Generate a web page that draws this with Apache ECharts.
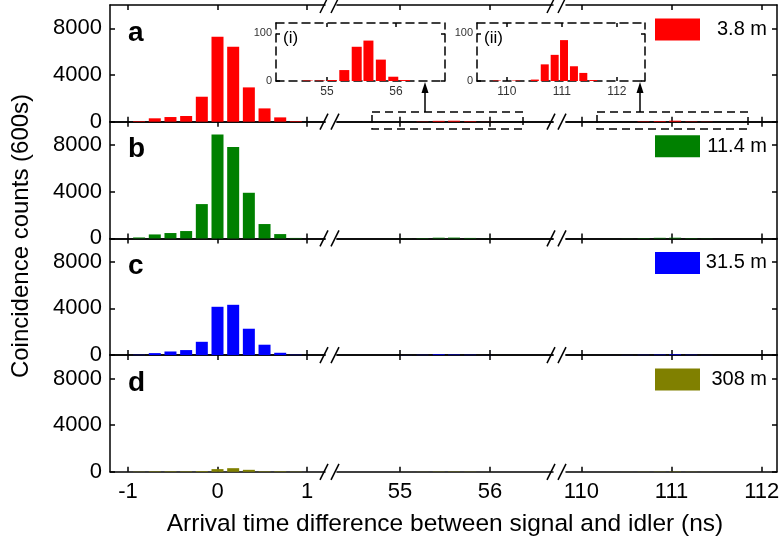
<!DOCTYPE html>
<html>
<head>
<meta charset="utf-8">
<script src="https://cdn.jsdelivr.net/npm/echarts@6/dist/echarts.min.js"></script>
<style>
  html, body { margin: 0; padding: 0; background: #fff; }
  #chart { width: 782px; height: 542px; }
</style>
</head>
<body>
<div id="chart"></div>
<script>
// Bin centres (ns) in the three windows of the time axis
const binsZero = [-0.875, -0.7, -0.525, -0.35, -0.175, 0, 0.175, 0.35, 0.525, 0.7, 0.875];
const binsFirst = [54.72, 54.9, 55.07, 55.25, 55.43, 55.6, 55.78, 55.96, 56.13];
const binsSecond = [109.82, 110.0, 110.17, 110.34, 110.51, 110.69, 110.87, 111.04, 111.22, 111.39, 111.57];

// Coincidence counts (600 s) for each fibre length
const zero38 = [50, 290, 400, 490, 2140, 7290, 6430, 2940, 1140, 370, 50];
const first38 = [1, 1, 2, 23, 72, 85, 45, 9, 2];
const second38 = [1, 0, 1, 0, 3, 35, 55, 86, 31, 17, 2];

const zero114 = [80, 340, 460, 630, 2940, 8910, 7830, 3910, 1230, 370, 40];
const first114 = [2, 3, 8, 30, 60, 70, 40, 8, 2];
const second114 = [1, 1, 2, 3, 10, 30, 50, 60, 30, 15, 2];

const zero315 = [30, 170, 310, 430, 1140, 4140, 4310, 2260, 890, 200, 30];
const first315 = [2, 3, 8, 25, 70, 45, 30, 6, 2];
const second315 = [1, 1, 2, 3, 12, 25, 40, 60, 30, 12, 2];

const zero308 = [20, 40, 40, 40, 60, 230, 310, 170, 40, 40, 20];
const first308 = [1, 2, 4, 10, 20, 25, 15, 4, 1];
const second308 = [1, 1, 2, 3, 6, 12, 18, 25, 12, 6, 1];

const lengths = ['3.8 m', '11.4 m', '31.5 m', '308 m'];
const panelLetters = ['a', 'b', 'c', 'd'];
const xTicksZero = [-1, 0, 1];
const xTicksFirst = [55, 56];
const xTicksSecond = [110, 111, 112];
const yTicks = [0, 4000, 8000];
const insetYTicks = [0, 100];

const xTitle = 'Arrival time difference between signal and idler (ns)';
const yTitle = 'Coincidence counts (600s)';

// ---- layout ----
const FONT = '"Liberation Sans", Arial, Helvetica, sans-serif';
const colors = ['#ff0000', '#008000', '#0000ff', '#808000'];
const segLeft = [110, 337, 566];
const segWidth = [215, 216, 211];
const segMin = [-1.2, 54.3, 109.83];
const segMax = [1.2, 56.7, 112.17];
const segTicks = [xTicksZero, xTicksFirst, xTicksSecond];
const segBins = [binsZero, binsFirst, binsSecond];
const panelH = 116.7;
const panelBottom = [121.7, 238.4, 355.1, 471.8];
const panelCounts = [
  [zero38, first38, second38],
  [zero114, first114, second114],
  [zero315, first315, second315],
  [zero308, first308, second308]
];
const AXIS = { color: '#000', width: 1.5 };
const plain = (v) => String(v);

const grid = [];
const xAxis = [];
const yAxis = [];
const series = [];

// main 4 x 3 grids
for (let p = 0; p < 4; p++) {
  for (let s = 0; s < 3; s++) {
    grid.push({
      left: segLeft[s], top: panelBottom[p] - panelH, width: segWidth[s], height: panelH,
      outerBoundsMode: 'none'
    });
  }
}
// inset grids
grid.push({ left: 276, top: 23, width: 169, height: 58, outerBoundsMode: 'none' });
grid.push({ left: 477, top: 23, width: 168, height: 58, outerBoundsMode: 'none' });

function mainX(g, s, pos, labels, withName) {
  return {
    type: 'value', gridIndex: g, position: pos, min: segMin[s], max: segMax[s],
    axisLine: { show: true, onZero: false, lineStyle: AXIS },
    axisTick: { show: true, inside: true, length: 5, customValues: segTicks[s], lineStyle: AXIS },
    axisLabel: { show: labels, customValues: segTicks[s], formatter: plain, fontSize: 22, color: '#000', margin: 9, fontFamily: FONT },
    splitLine: { show: false },
    name: withName ? xTitle : '',
    nameLocation: 'middle', nameGap: 40,
    nameTextStyle: { fontSize: 24.5, color: '#000', fontFamily: FONT }
  };
}
// bottom axes: 0..11
for (let p = 0; p < 4; p++) for (let s = 0; s < 3; s++)
  xAxis.push(mainX(p * 3 + s, s, 'bottom', p === 3, p === 3 && s === 1));
// top axes: 12..23
for (let p = 0; p < 4; p++) for (let s = 0; s < 3; s++)
  xAxis.push(mainX(p * 3 + s, s, 'top', false, false));

for (let p = 0; p < 4; p++) {
  for (let s = 0; s < 3; s++) {
    const g = p * 3 + s;
    yAxis.push({
      type: 'value', gridIndex: g, min: 0, max: 10000,
      show: s !== 1,
      position: s === 2 ? 'right' : 'left',
      axisLine: { show: true, onZero: false, lineStyle: AXIS },
      axisTick: { show: true, inside: true, length: 5, customValues: yTicks, lineStyle: AXIS },
      axisLabel: { show: s === 0, customValues: yTicks, formatter: plain, fontSize: 22, color: '#000', margin: 8, fontFamily: FONT },
      splitLine: { show: false }
    });
    series.push({
      type: 'bar', name: lengths[p], xAxisIndex: g, yAxisIndex: g,
      barWidth: 12,
      itemStyle: { color: colors[p] },
      data: segBins[s].map((x, i) => [x, panelCounts[p][s][i]]),
      silent: true
    });
  }
}

// insets: zoomed view of the 3.8 m side peaks
const DASH = { color: '#000', width: 1.5, type: [8, 5] };
const insetDefs = [
  { grid: 12, min: 54.26, max: 56.71, ticks: xTicksFirst, bins: binsFirst, vals: first38, bw: 10 },
  { grid: 13, min: 109.46, max: 112.51, ticks: xTicksSecond, bins: binsSecond, vals: second38, bw: 8 }
];
insetDefs.forEach((d) => {
  const xi = xAxis.length;
  ['bottom', 'top'].forEach((pos) => {
    xAxis.push({
      type: 'value', gridIndex: d.grid, position: pos, min: d.min, max: d.max,
      axisLine: { show: true, onZero: false, lineStyle: DASH },
      axisTick: { show: true, inside: true, length: 4, customValues: d.ticks, lineStyle: AXIS },
      axisLabel: { show: pos === 'bottom', customValues: d.ticks, formatter: plain, fontSize: 12, color: '#333', margin: 5, fontFamily: FONT },
      splitLine: { show: false }
    });
  });
  const yi = yAxis.length;
  ['left', 'right'].forEach((pos) => {
    yAxis.push({
      type: 'value', gridIndex: d.grid, position: pos, min: 0, max: 122,
      axisLine: { show: true, onZero: false, lineStyle: DASH },
      axisTick: { show: true, inside: true, length: 4, customValues: insetYTicks, lineStyle: AXIS },
      axisLabel: { show: pos === 'left', customValues: insetYTicks, formatter: plain, fontSize: 11, color: '#333', margin: 4, fontFamily: FONT },
      splitLine: { show: false }
    });
  });
  series.push({
    type: 'bar', name: lengths[0], xAxisIndex: xi, yAxisIndex: yi,
    barWidth: d.bw, itemStyle: { color: colors[0] },
    data: d.bins.map((x, i) => [x, d.vals[i]]),
    silent: true
  });
});

// legends, one per panel
const legend = lengths.map((name, p) => ({
  data: [name], left: 655, top: panelBottom[p] - panelH + 13.5,
  icon: 'rect', itemWidth: 45, itemHeight: 22, padding: 0, itemGap: 0,
  selectedMode: false,
  formatter: '{r|{name}}',
  textStyle: {
    fontSize: 20, color: '#000', fontFamily: FONT,
    rich: { r: { width: 62, align: 'right', fontSize: 20, color: '#000', fontFamily: FONT } }
  }
}));

// decorations: axis breaks, panel letters, inset frames and arrows
const graphic = [];
const lineYs = [panelBottom[0] - panelH].concat(panelBottom);
const breakXs = [324, 335, 551, 562];
lineYs.forEach((y) => {
  breakXs.forEach((x) => {
    graphic.push({ type: 'line', shape: { x1: x - 4, y1: y + 8, x2: x + 4, y2: y - 8 },
      style: { stroke: '#000', lineWidth: 1.5 }, z: 10 });
  });
});
panelLetters.forEach((t, p) => {
  graphic.push({ type: 'text', x: 128, y: panelBottom[p] - panelH + 28,
    style: { text: t, fontSize: 28, fontWeight: 'bold', fontFamily: FONT, fill: '#000', align: 'left', verticalAlign: 'middle' } });
});
graphic.push({ type: 'text', x: 21, y: 236, rotation: Math.PI / 2,
  style: { text: yTitle, fontSize: 24, fontFamily: FONT, fill: '#000', align: 'center', verticalAlign: 'middle' } });
graphic.push({ type: 'text', x: 283, y: 38,
  style: { text: '(i)', fontSize: 17, fontFamily: FONT, fill: '#000', align: 'left', verticalAlign: 'middle' } });
graphic.push({ type: 'text', x: 484, y: 38,
  style: { text: '(ii)', fontSize: 17, fontFamily: FONT, fill: '#000', align: 'left', verticalAlign: 'middle' } });
[[372, 425], [597, 640]].forEach(([bx, ax]) => {
  graphic.push({ type: 'rect', shape: { x: bx, y: 112, width: 151, height: 17 },
    style: { fill: 'none', stroke: '#000', lineWidth: 1.5, lineDash: [8, 5] }, z: 10 });
  graphic.push({ type: 'line', shape: { x1: ax, y1: 112, x2: ax, y2: 92 },
    style: { stroke: '#000', lineWidth: 1.5 }, z: 10 });
  graphic.push({ type: 'polygon', shape: { points: [[ax - 3.5, 93], [ax + 3.5, 93], [ax, 82]] },
    style: { fill: '#000' }, z: 10 });
});

const chart = echarts.init(document.getElementById('chart'), null, { renderer: 'canvas' });
chart.setOption({
  animation: false,
  backgroundColor: '#fff',
  textStyle: { fontFamily: FONT },
  grid, xAxis, yAxis, series, legend, graphic
});
</script>
</body>
</html>
